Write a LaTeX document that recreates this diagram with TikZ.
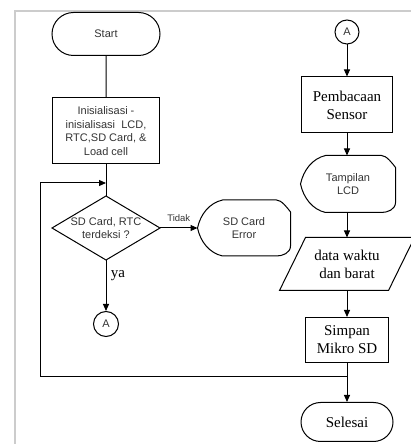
\documentclass[tikz,border=0pt]{standalone}
\usepackage{fontspec}
\setmainfont{Liberation Serif}
\newfontfamily\arialf{Liberation Sans}
\usetikzlibrary{arrows.meta,shapes.misc}
\newcommand\dispshape[1]{%
  \draw (#1.west) .. controls +(3,14) and +(-13,-3) .. ([xshift=25pt]#1.north west)
    -- ([xshift=-14pt]#1.north east)
    .. controls +(5,0) and +(-3,4) .. ([yshift=-12pt]#1.north east)
    -- ([yshift=10pt]#1.south east)
    .. controls +(0,-7) and +(6,0) .. ([xshift=-14pt]#1.south east)
    -- ([xshift=25pt]#1.south west)
    .. controls +(-13,3) and +(3,-14) .. (#1.west) -- cycle;}
\begin{document}
\begin{tikzpicture}[x=1pt,y=1pt,line width=1pt,
  sans/.style={font=\arialf\fontsize{11}{13.5}\selectfont, align=center, text=black!80},
  serif/.style={font=\fontsize{15}{18}\selectfont, align=center},
  box/.style={draw, rectangle, inner sep=0pt},
  term/.style={draw, rounded rectangle, inner sep=0pt},
  conn/.style={draw, circle, inner sep=0pt, minimum size=25pt},
  plain/.style={inner sep=0pt},
  arr/.style={-{Triangle[length=7pt,width=6pt]}}]
\useasboundingbox (0,0) rectangle (411,444);
% frame
\draw[black!20, line width=1.2pt] (15,0) -- (15,433) -- (411,433);
% left column
\node[term, sans, minimum width=108pt, minimum height=43pt] (start) at (106,410) {Start};
\node[box, sans, minimum width=107pt, minimum height=66pt] (init) at (106,313)
  {Inisialisasi -\\inisialisasi\ \ LCD,\\RTC,SD Card, \&\\Load cell};
\node[plain, sans, minimum width=107pt, minimum height=63pt] (dec) at (106,216) {SD Card, RTC\\terdeksi ?};
\draw (dec.north) -- (dec.east) -- (dec.south) -- (dec.west) -- cycle;
\node[plain, sans, minimum width=92pt, minimum height=55pt] (err) at (244,216) {SD Card\\Error};
\dispshape{err}
\node[conn, sans] (aL) at (106,120) {A};
% right column
\node[conn, sans, minimum size=24pt] (aR) at (347,412) {A};
\node[box, serif, minimum width=91pt, minimum height=56pt] (baca) at (347,339) {Pembacaan\\Sensor};
\node[plain, sans, minimum width=94pt, minimum height=56pt] (tamp) at (348,260) {Tampilan\\LCD};
\dispshape{tamp}
\node[plain, serif, minimum width=108pt, minimum height=52pt] (data) at (347,180) {data waktu\\dan barat};
\draw ([xshift=13pt]data.north west) -- ([xshift=13pt]data.north east)
  -- ([xshift=-13pt]data.south east) -- ([xshift=-13pt]data.south west) -- cycle;
\node[box, serif, minimum width=83pt, minimum height=45pt] (simpan) at (347,104) {Simpan\\Mikro SD};
\node[term, serif, minimum width=92pt, minimum height=39pt] (selesai) at (347,22) {Selesai};
\coordinate (j) at (347,67);
\coordinate (fb) at (106,261);
\coordinate (lc) at (40,261);
% connectors
\draw (start) -- (init);
\draw (init) -- (dec.north);
\draw[arr] (dec.east) -- node[above=3pt, text=black!80, font=\arialf\fontsize{9.5}{11}\selectfont] (tidak) {Tidak} (err.west);
\draw[arr] (dec.south) -- node[pos=0.3, right=1pt, font=\fontsize{15}{18}\selectfont] (ya) {ya} (aL);
\draw[arr] (aR) -- (baca);
\draw[arr] (baca) -- (baca.south |- tamp.north);
\draw[arr] (baca.south |- tamp.south) -- (data.north);
\draw[arr] (data.south) -- (simpan);
\draw[arr] (simpan) -- (selesai);
\draw[arr] (j) -| (lc) -- (fb);
\end{tikzpicture}
\end{document}
